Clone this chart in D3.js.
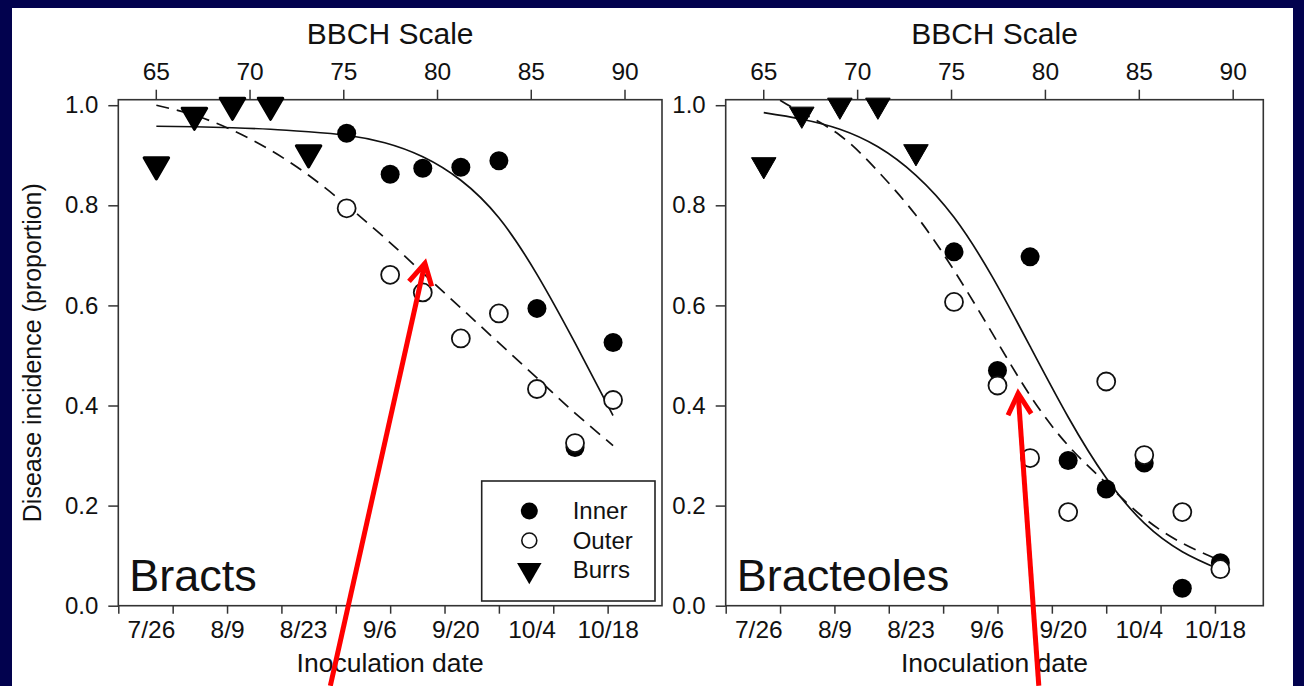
<!DOCTYPE html>
<html>
<head>
<meta charset="utf-8">
<script src="https://cdn.jsdelivr.net/npm/d3@7"></script>
<style>
  body { margin: 0; background: #02024e; }
  svg { display: block; font-family: 'Liberation Sans', Arial, sans-serif; }
</style>
</head>
<body>
<svg id="chart" width="1304" height="686"></svg>
<script>
(function () {
  'use strict';

  // sampling dates (Bracts and Bracteoles share them)
  var burrDates = ['7/27', '8/3', '8/10', '8/17', '8/24'];
  var bractDates = ['8/31', '9/8', '9/14', '9/21', '9/28', '10/5', '10/12', '10/19'];

  var bractBurrs = [0.881, 0.98, 1.0, 1.0, 0.905];
  var bractInner = [0.944, 0.862, 0.874, 0.876, 0.889, 0.594, 0.316, 0.526];
  var bractOuter = [0.794, 0.661, 0.626, 0.534, 0.584, 0.433, 0.325, 0.411];

  var bracteoleBurrs = [0.881, 0.982, 1.0, 1.0, 0.907];
  var bracteoleInner = [0.707, 0.470, 0.697, 0.290, 0.233, 0.285, 0.035, 0.086];
  var bracteoleOuter = [0.607, 0.440, 0.295, 0.187, 0.448, 0.301, 0.187, 0.073];

  // fitted curves (days after 7/20)
  var fitDays = [7, 14, 21, 28, 35, 42, 49, 56, 63, 70, 77, 84, 91];
  var bractInnerFit = [0.958, 0.957, 0.955, 0.952, 0.947, 0.940, 0.925, 0.897, 0.850, 0.775, 0.662, 0.525, 0.38];
  var bractOuterFit = [1.0, 0.98, 0.95, 0.91, 0.86, 0.80, 0.735, 0.665, 0.595, 0.525, 0.455, 0.385, 0.32];
  var bracteoleInnerFit = [0.985, 0.972, 0.952, 0.917, 0.86, 0.776, 0.658, 0.518, 0.377, 0.255, 0.165, 0.108, 0.072];
  var bracteoleOuterDays = [10, 14, 21, 28, 35, 42, 49, 56, 63, 70, 77, 84, 91];
  var bracteoleOuterFit = [1.01, 0.985, 0.94, 0.868, 0.78, 0.67, 0.545, 0.42, 0.32, 0.245, 0.175, 0.125, 0.09];

  var dateTicks = [0, 10, 20, 30, 40, 50, 60, 70, 80, 90];
  var dateLabels = ['7/26', '8/9', '8/23', '9/6', '9/20', '10/4', '10/18'];
  var bbchTicks = [65, 70, 75, 80, 85, 90];
  var yTicks = [0, 0.2, 0.4, 0.6, 0.8, 1.0];
  var seriesNames = ['Inner', 'Outer', 'Burrs'];

  // red annotation arrows, [day, value] tail -> tip
  var arrows = [
    { panel: 0, from: [39, -0.16], to: [56.4, 0.684] },
    { panel: 1, from: [57.6, -0.16], to: [53.8, 0.424] }
  ];

  var parse = d3.timeParse('%m/%d/%Y');
  var start = parse('7/20/2011');
  function dayOf(s) { return d3.timeDay.count(start, parse(s + '/2011')); }

  var svg = d3.select('#chart');
  var W = 1304, H = 686;
  svg.append('rect').attr('width', W).attr('height', H).attr('fill', '#02024e');
  svg.append('rect').attr('x', 12).attr('y', 8).attr('width', 1281).attr('height', H - 8).attr('fill', '#fff');

  var top = 99.7, bottom = 605.7;
  var y = d3.scaleLinear().domain([0, 1.011]).range([bottom, top]);

  var panels = [
    { name: 'Bracts', x0: 118.3, x1: 662, days: 100, bbchEnd: 92,
      burrs: bractBurrs, inner: bractInner, outer: bractOuter,
      innerFit: [fitDays, bractInnerFit], outerFit: [fitDays, bractOuterFit], legend: true, yTitle: true },
    { name: 'Bracteoles', x0: 725.7, x1: 1263.3, days: 98.9, bbchEnd: 91.63,
      burrs: bracteoleBurrs, inner: bracteoleInner, outer: bracteoleOuter,
      innerFit: [fitDays, bracteoleInnerFit], outerFit: [bracteoleOuterDays, bracteoleOuterFit], legend: false, yTitle: false }
  ];

  var ink = '#111';
  var axisCol = '#333';

  function styleAxis(g, size) {
    g.select('.domain').remove();
    g.selectAll('line').attr('stroke', axisCol).attr('stroke-width', 1.5);
    g.selectAll('text').attr('fill', ink).style('font-size', size + 'px')
      .style('font-family', "'Liberation Sans', Arial, sans-serif");
  }

  var tri = d3.symbol().type(d3.symbolTriangle).size(260);

  panels.forEach(function (p, pi) {
    var x = d3.scaleLinear().domain([0, p.days]).range([p.x0, p.x1]);
    var bb = d3.scaleLinear().domain([63, p.bbchEnd]).range([p.x0, p.x1]);
    var g = svg.append('g');

    var clipId = 'clip' + pi;
    svg.append('clipPath').attr('id', clipId).append('rect')
      .attr('x', p.x0).attr('y', top).attr('width', p.x1 - p.x0).attr('height', bottom - top);

    // axes
    g.append('g').attr('transform', 'translate(0,' + bottom + ')')
      .call(d3.axisBottom(x).tickValues(dateTicks).tickSize(8).tickFormat(''))
      .call(styleAxis, 24);
    g.append('g').attr('transform', 'translate(0,' + bottom + ')')
      .call(d3.axisBottom(x).tickValues(dateLabels.map(dayOf)).tickSize(0).tickPadding(15)
        .tickFormat(function (d, i) { return dateLabels[i]; }))
      .call(styleAxis, 24.5);
    g.append('g').attr('transform', 'translate(0,' + top + ')')
      .call(d3.axisTop(bb).tickValues(bbchTicks).tickSize(10).tickPadding(10))
      .call(styleAxis, 24.5);
    g.append('g').attr('transform', 'translate(' + p.x0 + ',0)')
      .call(d3.axisLeft(y).tickValues(yTicks).tickSize(10).tickPadding(10).tickFormat(d3.format('.1f')))
      .call(styleAxis, 24);

    g.append('rect').attr('x', p.x0).attr('y', top).attr('width', p.x1 - p.x0).attr('height', bottom - top)
      .attr('fill', 'none').attr('stroke', axisCol).attr('stroke-width', 1.6);

    var mid = (p.x0 + p.x1) / 2;
    g.append('text').attr('x', mid).attr('y', 44).attr('text-anchor', 'middle')
      .style('font-size', '30px').attr('fill', ink).text('BBCH Scale');
    g.append('text').attr('x', mid).attr('y', 672).attr('text-anchor', 'middle')
      .style('font-size', '26.5px').attr('fill', ink).text('Inoculation date');
    if (p.yTitle) {
      g.append('text').attr('transform', 'translate(41,' + ((top + bottom) / 2) + ') rotate(-90)')
        .attr('text-anchor', 'middle').style('font-size', '25px').attr('fill', ink)
        .text('Disease incidence (proportion)');
    }
    g.append('text').attr('x', p.x0 + 11).attr('y', 591)
      .style('font-size', '45px').attr('fill', ink).text(p.name);

    // fitted curves
    var line = d3.line().curve(d3.curveNatural)
      .x(function (d) { return x(d[0]); }).y(function (d) { return y(d[1]); });
    var plot = g.append('g').attr('clip-path', 'url(#' + clipId + ')');
    plot.append('path').attr('d', line(d3.zip(p.innerFit[0], p.innerFit[1])))
      .attr('fill', 'none').attr('stroke', ink).attr('stroke-width', 1.7);
    plot.append('path').attr('d', line(d3.zip(p.outerFit[0], p.outerFit[1])))
      .attr('fill', 'none').attr('stroke', ink).attr('stroke-width', 1.7).attr('stroke-dasharray', '13,8');

    // points
    var bd = bractDates.map(dayOf);
    g.selectAll('.inner').data(p.inner).enter().append('circle')
      .attr('cx', function (d, i) { return x(bd[i]); }).attr('cy', function (d) { return y(d); })
      .attr('r', 9.5).attr('fill', '#000');
    g.selectAll('.outer').data(p.outer).enter().append('circle')
      .attr('cx', function (d, i) { return x(bd[i]); }).attr('cy', function (d) { return y(d); })
      .attr('r', 9).attr('fill', '#fff').attr('stroke', ink).attr('stroke-width', 1.8);
    var ud = burrDates.map(dayOf);
    g.selectAll('.burr').data(p.burrs).enter().append('path')
      .attr('d', tri)
      .attr('transform', function (d, i) { return 'translate(' + x(ud[i]) + ',' + y(d) + ') rotate(180)'; })
      .attr('fill', '#000').attr('stroke', '#000').attr('stroke-width', pi === 0 ? 3 : 1)
      .attr('stroke-linejoin', 'round');

    if (p.legend) {
      var lg = g.append('g').attr('transform', 'translate(481.7,481)');
      lg.append('rect').attr('width', 173.3).attr('height', 120)
        .attr('fill', '#fff').attr('stroke', '#222').attr('stroke-width', 1.6);
      seriesNames.forEach(function (name, i) {
        var ry = 30 + i * 29.5;
        if (i === 0) lg.append('circle').attr('cx', 47.6).attr('cy', ry).attr('r', 8.5).attr('fill', '#000');
        if (i === 1) lg.append('circle').attr('cx', 47.6).attr('cy', ry).attr('r', 7.5)
          .attr('fill', '#fff').attr('stroke', ink).attr('stroke-width', 1.6);
        if (i === 2) lg.append('path').attr('d', tri)
          .attr('transform', 'translate(47.6,' + ry + ') rotate(180)').attr('fill', '#000');
        lg.append('text').attr('x', 91).attr('y', ry + 8).style('font-size', '24px')
          .attr('fill', ink).text(name);
      });
    }

    p.x = x;
  });

  // annotation arrows on top of everything
  arrows.forEach(function (a) {
    var x = panels[a.panel].x;
    var x1 = x(a.from[0]), y1 = y(a.from[1]);
    var x2 = x(a.to[0]), y2 = y(a.to[1]);
    var ang = Math.atan2(y1 - y2, x1 - x2);
    var len = 24, spread = 29 * Math.PI / 180;
    var w1 = [x2 + len * Math.cos(ang - spread), y2 + len * Math.sin(ang - spread)];
    var w2 = [x2 + len * Math.cos(ang + spread), y2 + len * Math.sin(ang + spread)];
    svg.append('line').attr('x1', x1).attr('y1', y1).attr('x2', x2).attr('y2', y2)
      .attr('stroke', '#f00').attr('stroke-width', 5);
    svg.append('path').attr('d', 'M' + w1 + 'L' + x2 + ',' + y2 + 'L' + w2)
      .attr('fill', 'none').attr('stroke', '#f00').attr('stroke-width', 5).attr('stroke-linejoin', 'miter');
  });
})();
</script>
</body>
</html>
